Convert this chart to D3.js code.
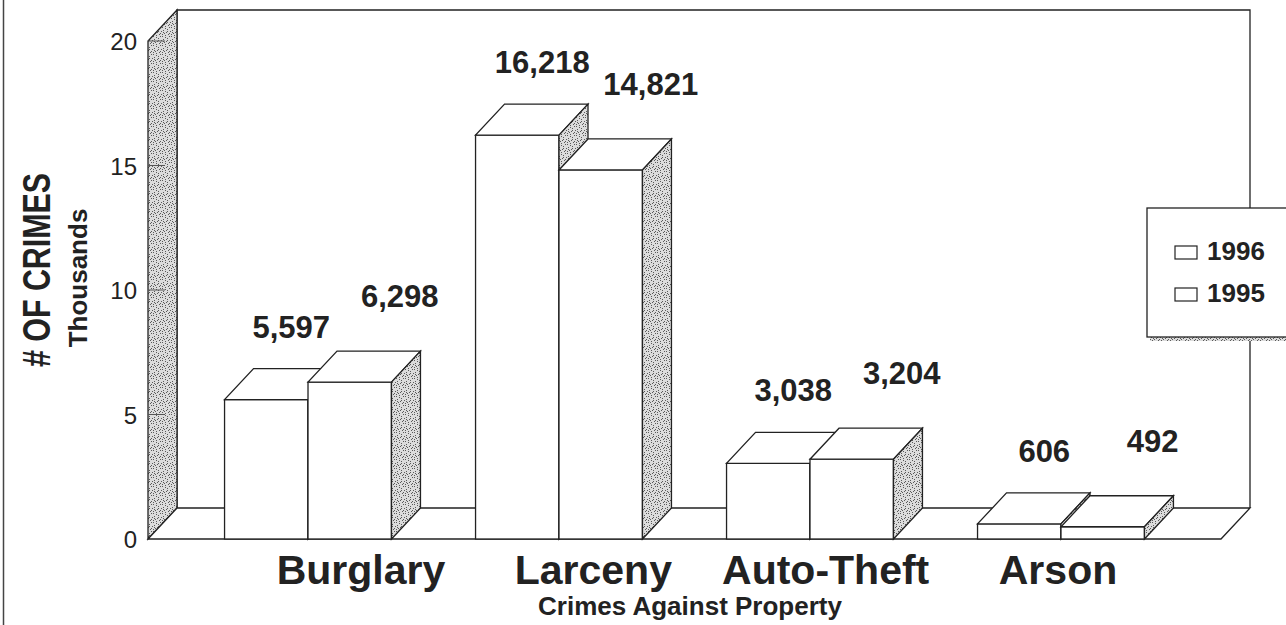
<!DOCTYPE html>
<html><head><meta charset="utf-8">
<script src="https://cdn.jsdelivr.net/npm/d3@7"></script>
<style>
body{margin:0;background:#fff}
svg{display:block}
text{font-family:"Liberation Sans",Arial,Helvetica,sans-serif;fill:#222}
</style>
</head><body>
<svg id="c" width="1286" height="625"></svg>
<script>
// ---- data ----
const categories = ["Burglary", "Larceny", "Auto-Theft", "Arson"];
const seriesNames = ["1996", "1995"];
const values1996 = [5597, 16218, 3038, 606];
const values1995 = [6298, 14821, 3204, 492];
const yTickValues = [0, 5, 10, 15, 20];
const yTitle = "# OF CRIMES";
const yUnit = "Thousands";
const xTitle = "Crimes Against Property";

const seriesValues = [values1996, values1995];
const fmt = d3.format(",");

// ---- layout ----
const svg = d3.select("#c");
const X0 = 148, X1 = 1221, Y0 = 539, Y20 = 41;
const DX = 29, DY = -31;
const INK = "#222";

const x = d3.scaleBand().domain(categories).range([X0, X1]).paddingInner(0.335).paddingOuter(0.305);
const xs = d3.scaleBand().domain(seriesNames).range([0, x.bandwidth()]);
const y = d3.scaleLinear().domain([0, 20]).range([Y0, Y20]);
// category label positions (labels sit slightly closer together than the bar groups)
const xLab = d3.scalePoint().domain(categories).range([361, 1058]);

// stipple pattern
const defs = svg.append("defs");
const pat = defs.append("pattern").attr("id", "stip").attr("patternUnits", "userSpaceOnUse").attr("width", 9).attr("height", 9);
pat.append("rect").attr("width", 9).attr("height", 9).attr("fill", "#dcdcdc");
[[0,0],[3,1],[7,0],[5,2],[1,3],[8,4],[4,5],[2,6],[6,7],[0,7],[7,6],[3,8],[5,4],[1,5]]
  .forEach(([a,b]) => pat.append("rect").attr("x", a).attr("y", b).attr("width", 1).attr("height", 1).attr("fill", "#5a5a5a"));

// frame line (page)
svg.append("line").attr("x1", 3.5).attr("x2", 3.5).attr("y1", 0).attr("y2", 625).attr("stroke", "#444").attr("stroke-width", 1.5);

const ymax = y.domain()[1];
// back wall
svg.append("polyline")
  .attr("points", [[X0 + DX, y(0) + DY], [X0 + DX, y(ymax) + DY], [X1 + DX, y(ymax) + DY], [X1 + DX, y(0) + DY]].map(p => p.join(",")).join(" "))
  .attr("fill", "#fff").attr("stroke", INK).attr("stroke-width", 1.3);
// left wall
svg.append("polygon")
  .attr("points", [[X0, y(0)], [X0, y(ymax)], [X0 + DX, y(ymax) + DY], [X0 + DX, y(0) + DY]].map(p => p.join(",")).join(" "))
  .attr("fill", "url(#stip)").attr("stroke", INK).attr("stroke-width", 1.3);
// wall ticks
svg.append("g").selectAll("line").data(yTickValues.slice(1)).join("line")
  .attr("x1", X0).attr("x2", X0 + 17).attr("y1", d => y(d)).attr("y2", d => y(d))
  .attr("stroke", "#555").attr("stroke-width", 1);
// floor
svg.append("polygon")
  .attr("points", [[X0, y(0)], [X1, y(0)], [X1 + DX, y(0) + DY], [X0 + DX, y(0) + DY]].map(p => p.join(",")).join(" "))
  .attr("fill", "#fff").attr("stroke", INK).attr("stroke-width", 1.3);

// y axis
const yAxis = svg.append("g").attr("transform", `translate(${X0},0)`)
  .call(d3.axisLeft(y).tickValues(yTickValues).tickSize(0).tickPadding(11));
yAxis.select(".domain").remove();
yAxis.selectAll("text").style("font-family", '"Liberation Sans",Arial,sans-serif').style("font-size", "24px").attr("fill", "#333").attr("dy", "0.36em");

// bars
const bars = [];
categories.forEach((c, i) => {
  seriesNames.forEach((s, j) => bars.push({ c, s, j, v: seriesValues[j][i] }));
});
const gB = svg.append("g");
bars.forEach(b => {
  const bx = x(b.c) + xs(b.s), bw = xs.bandwidth();
  const top = y(b.v / 1000), bot = y(0);
  const g = gB.append("g");
  g.append("rect").attr("x", bx).attr("y", top).attr("width", bw).attr("height", bot - top)
    .attr("fill", "#fff").attr("stroke", INK).attr("stroke-width", 1.3);
  g.append("polygon").attr("points", [[bx, top], [bx + bw, top], [bx + bw + DX, top + DY], [bx + DX, top + DY]].map(p => p.join(",")).join(" "))
    .attr("fill", "#fff").attr("stroke", INK).attr("stroke-width", 1.3);
  g.append("polygon").attr("points", [[bx + bw, top], [bx + bw + DX, top + DY], [bx + bw + DX, bot + DY], [bx + bw, bot]].map(p => p.join(",")).join(" "))
    .attr("fill", "url(#stip)").attr("stroke", INK).attr("stroke-width", 1.3);
});

// value labels
const labDX = [25, 50], labDY = [62, 75];
svg.append("g").selectAll("text").data(bars).join("text")
  .attr("x", d => x(d.c) + xs(d.s) + xs.bandwidth() / 2 + labDX[d.j])
  .attr("y", d => y(d.v / 1000) - labDY[d.j])
  .attr("text-anchor", "middle").style("font-size", "31px").style("font-weight", "bold")
  .text(d => fmt(d.v));

// category labels
svg.append("g").selectAll("text").data(categories).join("text")
  .attr("x", d => xLab(d)).attr("y", 584)
  .attr("text-anchor", "middle").style("font-size", "41px").style("font-weight", "bold")
  .text(d => d);

// axis titles
svg.append("text").attr("x", 690).attr("y", 615).attr("text-anchor", "middle")
  .style("font-size", "26px").style("font-weight", "bold").text(xTitle);
svg.append("text").attr("transform", "translate(50,270) rotate(-90) scale(0.8,1)")
  .attr("text-anchor", "middle").style("font-size", "38px").style("font-weight", "bold").text(yTitle);
svg.append("text").attr("transform", "translate(87,278) rotate(-90)")
  .attr("text-anchor", "middle").style("font-size", "26px").style("font-weight", "bold").text(yUnit);

// legend
const lg = svg.append("g");
lg.append("rect").attr("x", 1150).attr("y", 337).attr("width", 140).attr("height", 4).attr("fill", "url(#stip)");
lg.append("rect").attr("x", 1147).attr("y", 208).attr("width", 150).attr("height", 129)
  .attr("fill", "#fff").attr("stroke", INK).attr("stroke-width", 1.3);
seriesNames.forEach((s, j) => {
  const ly = 252 + j * 42;
  lg.append("rect").attr("x", 1175).attr("y", ly - 6).attr("width", 22).attr("height", 13)
    .attr("fill", "#fff").attr("stroke", INK).attr("stroke-width", 1.2);
  lg.append("text").attr("x", 1207).attr("y", ly + 8).style("font-size", "26px").style("font-weight", "bold").text(s);
});
</script>
</body></html>
